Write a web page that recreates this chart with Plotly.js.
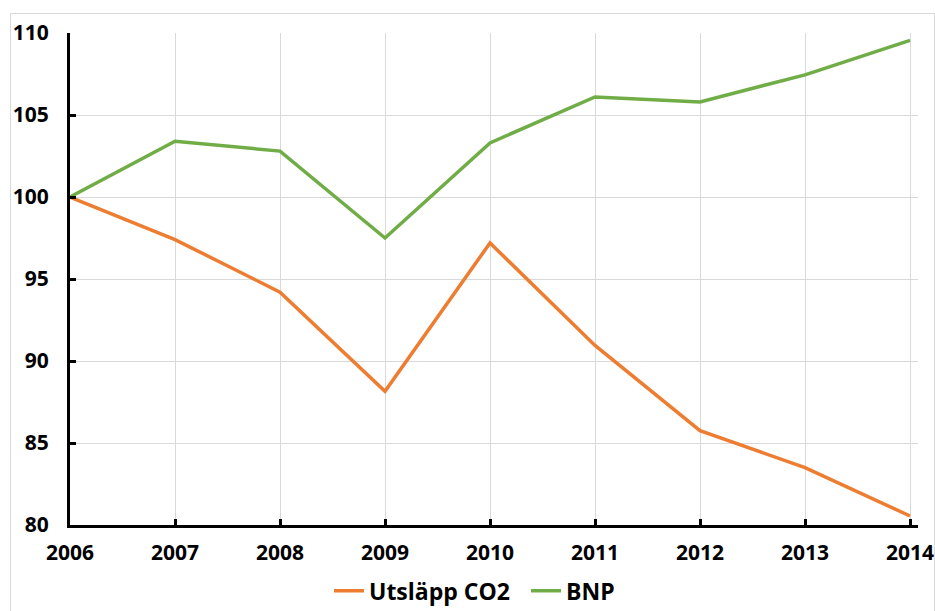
<!DOCTYPE html>
<html>
<head>
<meta charset="utf-8">
<script src="https://cdn.plot.ly/plotly-3.0.1.min.js"></script>
<style>
html,body{margin:0;padding:0;background:#fff;}
#chart{position:absolute;left:0;top:0;width:935px;height:611px;}
#frame{position:absolute;left:10px;top:13px;width:923px;height:620px;border:1px solid #d9d9d9;pointer-events:none;}
</style>
</head>
<body>
<div id="chart"></div>
<div id="frame"></div>
<script>
const years = [2006, 2007, 2008, 2009, 2010, 2011, 2012, 2013, 2014];
const co2 = [100, 97.4, 94.2, 88.15, 97.2, 90.95, 85.75, 83.5, 80.55];
const bnp = [100, 103.4, 102.8, 97.5, 103.3, 106.1, 105.8, 107.45, 109.55];
const yTicks = [80, 85, 90, 95, 100, 105, 110];

const fontFam = '"Open Sans", "DejaVu Sans", sans-serif';

const traces = [
  {x: years, y: co2, type: 'scatter', mode: 'lines', name: 'Utsläpp CO2',
   line: {color: '#ED7D31', width: 3.5}},
  {x: years, y: bnp, type: 'scatter', mode: 'lines', name: 'BNP',
   line: {color: '#70AD47', width: 3.5}}
];

const layout = {
  width: 935, height: 611,
  margin: {l: 70, r: 17, t: 33, b: 86},
  paper_bgcolor: '#fff', plot_bgcolor: '#fff',
  font: {family: fontFam, color: '#000', size: 19, weight: 'bold'},
  showlegend: true,
  legend: {orientation: 'h', x: 329 / 935, xref: 'container', xanchor: 'left',
           y: 0.033, yref: 'container', yanchor: 'middle',
           font: {family: fontFam, size: 23, weight: 'bold', color: '#000'},
           entrywidth: 152, entrywidthmode: 'pixels', tracegroupgap: 0},
  xaxis: {
    range: [2006, 2014.076], tickvals: years, ticktext: years.map(String),
    showgrid: true, gridcolor: '#d9d9d9', gridwidth: 1,
    showline: true, linecolor: '#000', linewidth: 3,
    ticks: 'inside', ticklen: 6, tickwidth: 3, tickcolor: '#000',
    tickfont: {family: fontFam, size: 21, weight: 'bold', color: '#000'},
    ticklabelstandoff: 7,
    zeroline: false, fixedrange: true
  },
  yaxis: {
    range: [80, 110], tickvals: yTicks, ticktext: yTicks.map(String),
    showgrid: true, gridcolor: '#d9d9d9', gridwidth: 1,
    showline: true, linecolor: '#000', linewidth: 3,
    ticks: 'inside', ticklen: 6, tickwidth: 3, tickcolor: '#000',
    tickfont: {family: fontFam, size: 21, weight: 'bold', color: '#000'},
    ticklabelstandoff: 14,
    zeroline: false, fixedrange: true
  }
};

Plotly.newPlot('chart', traces, layout, {displayModeBar: false, staticPlot: true});
</script>
</body>
</html>
